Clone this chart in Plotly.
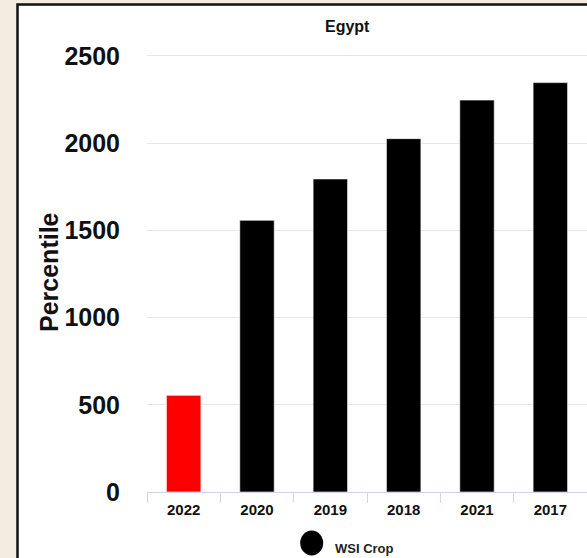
import plotly.graph_objects as go

# Season ranking for Egypt (WSI Crop index)
years = ["2022", "2020", "2019", "2018", "2021", "2017"]
values = [554, 1557, 1794, 2025, 2246, 2346]
bar_colors = ["#ff0000", "#000000", "#000000", "#000000", "#000000", "#000000"]
y_ticks = [0, 500, 1000, 1500, 2000, 2500]

W, H = 587, 558
L, R, T, B = 147, 0, 30, 66
PW, PH = W - L - R, H - T - B
PLOT_BOTTOM = H - B


def px_x(x):
    return (x - L) / PW


def px_y(y):
    return (PLOT_BOTTOM - y) / PH


FONT = "Arial, Liberation Sans, sans-serif"

fig = go.Figure()
fig.add_trace(go.Bar(
    x=years,
    y=values,
    marker=dict(color=bar_colors, line=dict(color="rgba(255,255,255,0.6)", width=1)),
    showlegend=False,
))

shapes = [
    # white chart card with dark frame
    dict(type="rect", xref="paper", yref="paper", layer="below",
         x0=px_x(17.5), x1=px_x(620), y0=px_y(4.5), y1=px_y(600),
         fillcolor="white", line=dict(color="#111111", width=2.5)),
    # legend symbol
    dict(type="circle", xref="paper", yref="paper",
         x0=px_x(300.2), x1=px_x(323.2), y0=px_y(530.5), y1=px_y(555.5),
         fillcolor="black", line=dict(color="black", width=0)),
]

annotations = [
    dict(text="<b>Egypt</b>", xref="paper", yref="paper",
         x=px_x(347), y=px_y(26), xanchor="center", yanchor="middle",
         showarrow=False, font=dict(family=FONT, size=16, color="#111111")),
    dict(text="<b>Percentile</b>", xref="paper", yref="paper",
         x=px_x(49), y=px_y(272), xanchor="center", yanchor="middle",
         textangle=-90, showarrow=False,
         font=dict(family=FONT, size=25, color="#111111")),
    dict(text="<b>WSI Crop</b>", xref="paper", yref="paper",
         x=px_x(333), y=px_y(548), xanchor="left", yanchor="middle",
         showarrow=False, font=dict(family=FONT, size=13, color="#222222")),
]

fig.update_layout(
    width=W, height=H,
    margin=dict(l=L, r=R, t=T, b=B, pad=0),
    paper_bgcolor="#f4ece0",
    plot_bgcolor="white",
    bargap=0.53,
    shapes=shapes,
    annotations=annotations,
    showlegend=False,
    xaxis=dict(
        type="category",
        showgrid=False,
        showline=True, linecolor="#ccd6eb", linewidth=1,
        ticks="outside", tickson="boundaries", ticklen=10,
        tickcolor="#ccd6eb", tickwidth=1,
        ticklabelstandoff=4,
        tickfont=dict(family=FONT, size=15, color="#111111"),
        tickprefix="<b>", ticksuffix="</b>",
        fixedrange=True,
    ),
    yaxis=dict(
        range=[0, 462 / 0.1745],
        tickvals=y_ticks,
        ticktext=[f"<b>{v}</b>" for v in y_ticks],
        showgrid=True, gridcolor="#e6e6e6", gridwidth=1,
        zeroline=False, showline=False,
        ticks="", ticklabelstandoff=26,
        tickfont=dict(family=FONT, size=25, color="#111111"),
        fixedrange=True,
    ),
)

fig.write_html("out.html")
